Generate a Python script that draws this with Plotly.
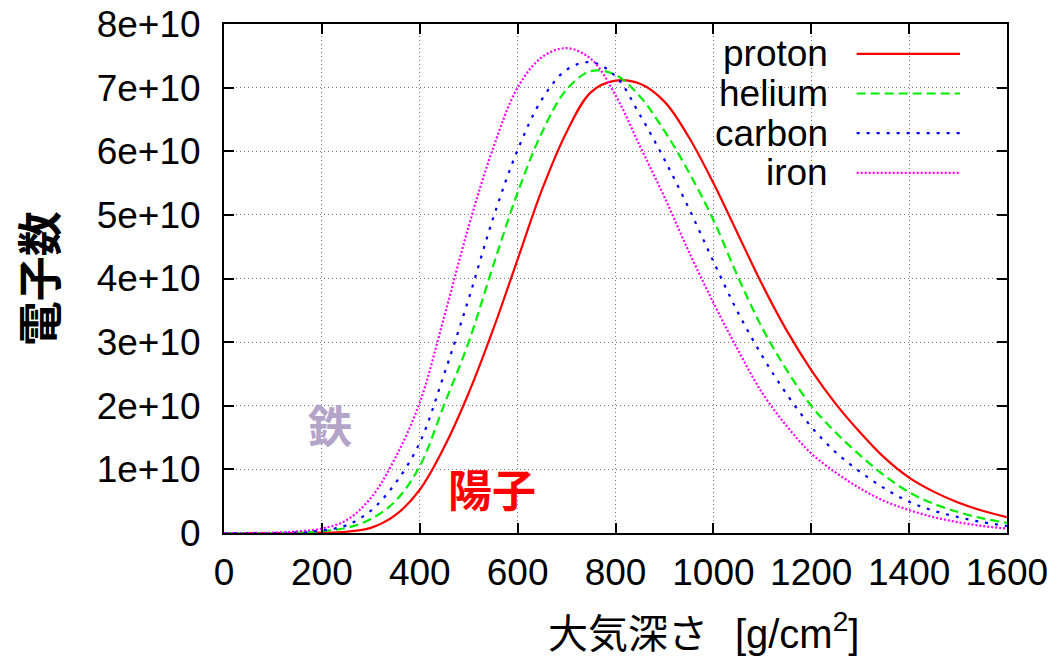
import plotly.graph_objects as go

# ---- data ----
depth = [0, 50, 100, 150, 200, 250, 300, 350, 400, 450, 500, 550, 600, 650, 700, 750,
         800, 850, 900, 950, 1000, 1050, 1100, 1150, 1200, 1250, 1300, 1350, 1400,
         1450, 1500, 1550, 1600]

proton = [0, 0, 0, 0, 0.005, 0.02, 0.08, 0.28, 0.68, 1.35, 2.2, 3.2, 4.3, 5.4, 6.3, 6.93,
          7.11, 7.06, 6.78, 6.22, 5.5, 4.7, 3.9, 3.18, 2.56, 2.03, 1.58, 1.18, 0.87,
          0.65, 0.48, 0.35, 0.25]
helium = [0, 0, 0, 0.005, 0.03, 0.08, 0.22, 0.5, 1.05, 2.02, 3.0, 4.2, 5.35, 6.3, 6.97, 7.26,
          7.2, 6.86, 6.32, 5.67, 4.92, 4.03, 3.22, 2.56, 2.0, 1.58, 1.22, 0.9, 0.64,
          0.46, 0.33, 0.23, 0.16]
carbon = [0, 0, 0, 0.01, 0.04, 0.12, 0.35, 0.78, 1.42, 2.5, 3.68, 4.95, 6.02, 6.82, 7.28, 7.4,
          7.18, 6.57, 5.87, 5.1, 4.27, 3.47, 2.78, 2.18, 1.67, 1.27, 0.96, 0.7, 0.49,
          0.35, 0.25, 0.17, 0.11]
iron = [0, 0, 0.005, 0.025, 0.07, 0.2, 0.55, 1.18, 2.05, 3.4, 4.82, 6.05, 7.0, 7.48, 7.62, 7.45,
        6.88, 6.08, 5.28, 4.42, 3.62, 2.88, 2.2, 1.68, 1.25, 0.95, 0.7, 0.5, 0.36,
        0.25, 0.17, 0.11, 0.07]

series_names = ["proton", "helium", "carbon", "iron"]
series_values = [proton, helium, carbon, iron]
series_colors = ["#ff0000", "#00ee00", "#0000ff", "#ff00ff"]
series_dash = ["solid", "9px,5px", "3px,7px", "2px,2px"]

scale = 1e10
y_tickvals = [0, 1, 2, 3, 4, 5, 6, 7, 8]
y_ticklabels = ["0", "1e+10", "2e+10", "3e+10", "4e+10", "5e+10", "6e+10", "7e+10", "8e+10"]
x_tickvals = [0, 200, 400, 600, 800, 1000, 1200, 1400, 1600]

FONT = "Liberation Sans, Arial, sans-serif"
CJK = "Noto Sans CJK JP, sans-serif"

fig = go.Figure()
for name, vals, col, dash in zip(series_names, series_values, series_colors, series_dash):
    fig.add_trace(go.Scatter(
        x=depth, y=[v * scale for v in vals], mode="lines", name=name,
        line=dict(color=col, width=2.2, dash=dash, shape="spline", smoothing=1.0),
        showlegend=False,
    ))

# manual gnuplot-style legend (text right, sample line left)
leg_text_x = 0.774
leg_x0, leg_x1 = 0.808, 0.940
leg_y0, leg_dy = 0.9415, 0.078
shapes = []
annotations = []
for i, (name, col, dash) in enumerate(zip(series_names, series_colors, series_dash)):
    yy = leg_y0 - i * leg_dy
    shapes.append(dict(type="line", xref="paper", yref="paper", x0=leg_x0, x1=leg_x1,
                       y0=yy, y1=yy, line=dict(color=col, width=2.2, dash=dash)))
    annotations.append(dict(xref="paper", yref="paper", x=leg_text_x, y=yy, text=name,
                            showarrow=False, xanchor="right", yanchor="middle",
                            font=dict(family=FONT, size=37, color="black")))

# labels on plot
annotations.append(dict(x=217, y=1.72 * scale, text="<b>鉄</b>", showarrow=False,
                        xanchor="center", yanchor="middle",
                        font=dict(family=CJK, size=44, color="#b4a5c8")))
annotations.append(dict(x=548, y=0.7 * scale, text="<b>陽子</b>", showarrow=False,
                        xanchor="center", yanchor="middle",
                        font=dict(family=CJK, size=44, color="#ff0000")))

# axis titles
annotations.append(dict(xref="paper", yref="paper", x=-0.238, y=0.5, text="<b>電子数</b>",
                        textangle=-90, showarrow=False, xanchor="center", yanchor="middle",
                        font=dict(family=CJK, size=45, color="black")))
annotations.append(dict(xref="paper", yref="paper", x=0.612, y=-0.192,
                        text="大気深さ\u00a0\u00a0\u00a0<span style='font-family:Liberation Sans'>[g/cm<sup>2</sup>]</span>",
                        showarrow=False, xanchor="center", yanchor="middle",
                        font=dict(family=CJK, size=40, color="black")))

fig.update_layout(
    width=1060, height=659,
    margin=dict(l=224, r=53, t=24, b=126),
    paper_bgcolor="white", plot_bgcolor="white",
    shapes=shapes, annotations=annotations,
    showlegend=False,
)
fig.update_xaxes(
    range=[0, 1600], tickvals=x_tickvals, ticks="inside", ticklen=10, tickwidth=1.5,
    tickcolor="black", showline=True, linecolor="black", linewidth=2, mirror="allticks",
    showgrid=True, gridcolor="#777777", gridwidth=1, griddash="1px,3px",
    zeroline=False, tickfont=dict(family=FONT, size=37, color="black"),
    ticklabelstandoff=6, automargin=False,
)
fig.update_yaxes(
    range=[0, 8 * scale], tickvals=[v * scale for v in y_tickvals], ticktext=y_ticklabels,
    ticks="inside", ticklen=10, tickwidth=1.5,
    tickcolor="black", showline=True, linecolor="black", linewidth=2, mirror="allticks",
    showgrid=True, gridcolor="#777777", gridwidth=1, griddash="1px,3px",
    zeroline=False, tickfont=dict(family=FONT, size=37, color="black"),
    ticklabelstandoff=14, automargin=False,
)

fig.write_html("out.html")
